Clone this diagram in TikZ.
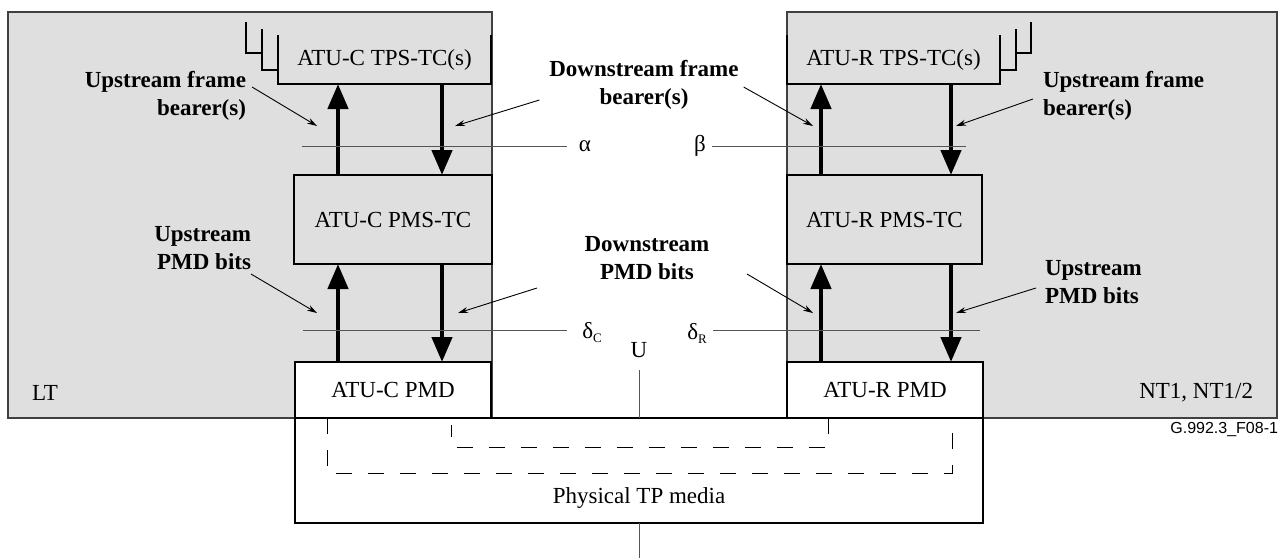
\documentclass[tikz,border=0pt]{standalone}
\usepackage{fontspec}
\setmainfont{Liberation Serif}
\newfontfamily\arialf{Liberation Sans}
\usetikzlibrary{arrows.meta}
\definecolor{bggrey}{HTML}{DFDFDF}
\definecolor{edgegrey}{HTML}{404040}
\definecolor{linegrey}{HTML}{555555}
\begin{document}
\begin{tikzpicture}[x=1pt,y=-1pt,
  every node/.style={inner sep=0pt, outer sep=0pt},
  txt/.style={font=\fontsize{23}{27}\selectfont},
  lbl/.style={font=\bfseries\fontsize{23}{28}\selectfont},
  shadebox/.style={fill=bggrey, draw=edgegrey, line width=1.5pt},
  blockbox/.style={draw=black, line width=1.5pt, txt},
  bigarrow/.style={line width=4.5pt, -{Triangle[length=25pt,width=20pt]}},
  ptr/.style={line width=0.9pt, -{Stealth[length=10pt,width=6pt]}},
  refline/.style={draw=linegrey, line width=1pt},
  dashbox/.style={line width=1pt, dash pattern=on 16pt off 16pt},
  openline/.style={line width=1.5pt}
]
\useasboundingbox (0,0) rectangle (1283,558);

% equipment areas
\node[shadebox, minimum width=484, minimum height=406] (lt) at (250,215) {};
\node[shadebox, minimum width=490, minimum height=406] (nt) at (1032,215) {};

% TPS-TC boxes (open top)
\node[txt, minimum width=213, minimum height=49] (tpsC) at (384.5,59.5) {ATU-C TPS-TC(s)};
\node[txt, minimum width=213, minimum height=49] (tpsR) at (893.5,59.5) {ATU-R TPS-TC(s)};
\draw[openline] (tpsC.north west) -- (tpsC.south west) -- (tpsC.south east) -- (tpsC.north east);
\draw[openline] (tpsR.north west) -- (tpsR.south west) -- (tpsR.south east) -- (tpsR.north east);
% stacked layers behind the TPS-TC boxes
\draw[line width=1.2pt] (262,29) -- (262,70) -- (278,70);
\draw[line width=1.2pt] (246,22) -- (246,53) -- (262,53);
\draw[line width=1.2pt] (1016,29) -- (1016,70) -- (1000,70);
\draw[line width=1.2pt] (1031,22) -- (1031,53) -- (1016,53);

% PMS-TC boxes
\node[blockbox, fill=bggrey, minimum width=198, minimum height=89] (pmsC) at (393,219.5) {ATU-C PMS-TC};
\node[blockbox, fill=bggrey, minimum width=195, minimum height=89] (pmsR) at (884.5,219.5) {ATU-R PMS-TC};

% PMD boxes
\node[blockbox, fill=white, minimum width=196, minimum height=56] (pmdC) at (393,390) {ATU-C PMD};
\node[blockbox, fill=white, minimum width=196, minimum height=56] (pmdR) at (885,390) {ATU-R PMD};

% physical media
\node[draw=black, line width=1.5pt, fill=white, minimum width=688, minimum height=105] (phys) at (639,470.5) {};
\node[txt] (physlbl) at (639,498) {Physical TP media};
\draw[dashbox] (327,418) -- (327,473) -- (952,473) -- (952,418);
\draw[dashbox] (828,418) -- (828,447) -- (451,447) -- (451,425);

% U reference point
\node[txt] (U) at (639,350) {U};
\coordinate (utop) at (639,370);
\coordinate (bot) at (639,558);
\draw[line width=1pt, linegrey] (utop) -- (phys.north);
\draw[line width=1pt, linegrey] (phys.south) -- (bot);

% thick arrows
\coordinate (xCu) at (338,0);
\coordinate (xCd) at (442,0);
\coordinate (xRu) at (821,0);
\coordinate (xRd) at (951,0);
\draw[bigarrow] (pmsC.north -| xCu) -- (tpsC.south -| xCu);
\draw[bigarrow] (tpsC.south -| xCd) -- (pmsC.north -| xCd);
\draw[bigarrow] (pmsR.north -| xRu) -- (tpsR.south -| xRu);
\draw[bigarrow] (tpsR.south -| xRd) -- (pmsR.north -| xRd);
\draw[bigarrow] (pmdC.north -| xCu) -- (pmsC.south -| xCu);
\draw[bigarrow] (pmsC.south -| xCd) -- (pmdC.north -| xCd);
\draw[bigarrow] (pmdR.north -| xRu) -- (pmsR.south -| xRu);
\draw[bigarrow] (pmsR.south -| xRd) -- (pmdR.north -| xRd);

% reference lines
\node[txt] (alpha) at (585,146) {α};
\node[txt] (beta) at (700,146) {β};
\node[txt] (dC) at (592,333) {δ\raisebox{-4pt}{\fontsize{13}{13}\selectfont C}};
\node[txt] (dR) at (697,333) {δ\raisebox{-4pt}{\fontsize{13}{13}\selectfont R}};
\coordinate (aL) at (302,146);
\coordinate (bR) at (966,146);
\coordinate (dCL) at (303,330);
\coordinate (dRR) at (980,330);
\draw[refline] (aL) -- (567,146);
\draw[refline] (712,146) -- (bR);
\draw[refline] (dCL) -- (567,330);
\draw[refline] (713,330) -- (dRR);

% labels
\node[lbl, anchor=east, align=right] (ufbC) at (246,96) {Upstream frame\\bearer(s)};
\node[lbl, align=center] (dfb) at (644,85) {Downstream frame\\bearer(s)};
\node[lbl, anchor=west, align=left] (ufbR) at (1043,96) {Upstream frame\\bearer(s)};
\node[lbl, anchor=east, align=right] (upC) at (251,248) {Upstream\\PMD bits};
\node[lbl, align=center] (dpmd) at (647,258) {Downstream\\PMD bits};
\node[lbl, anchor=west, align=left] (upR) at (1045,282) {Upstream\\PMD bits};

\coordinate (t1) at (317,126);
\coordinate (t2) at (455,126);
\coordinate (t3) at (813,126);
\coordinate (t4) at (956,126);
\coordinate (t5) at (317,313);
\coordinate (t6) at (458,313);
\coordinate (t7) at (813,313);
\coordinate (t8) at (956,313);
\draw[ptr] ([xshift=6pt,yshift=9pt]ufbC.east) -- (t1);
\draw[ptr] ([xshift=-10pt,yshift=-15pt]dfb.west) -- (t2);
\draw[ptr] ([xshift=5pt,yshift=-2pt]dfb.east) -- (t3);
\draw[ptr] ([xshift=-10pt,yshift=-3pt]ufbR.west) -- (t4);
\draw[ptr] ([yshift=-26pt]upC.east) -- (t5);
\draw[ptr] ([xshift=-110pt,yshift=-30pt]dpmd.center) -- (t6);
\draw[ptr] ([xshift=100pt,yshift=-16pt]dpmd.center) -- (t7);
\draw[ptr] ([xshift=-9pt,yshift=-6pt]upR.west) -- (t8);

% area names
\node[txt, anchor=west] (ltlbl) at (32,393) {LT};
\node[txt, anchor=east] (ntlbl) at (1253,393) {NT1, NT1/2};
\node[font=\arialf\fontsize{16}{16}\selectfont, anchor=east] (fig) at (1278,429) {G.992.3\_F08-1};
\end{tikzpicture}
\end{document}
